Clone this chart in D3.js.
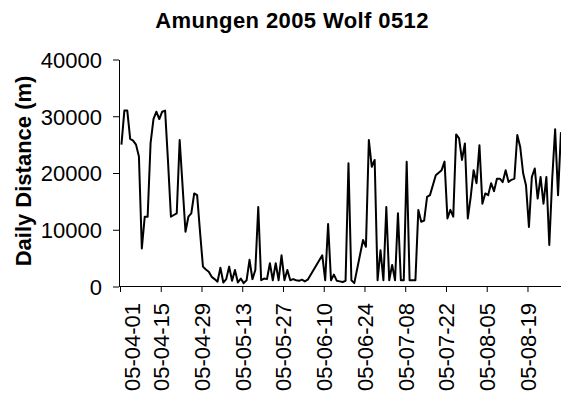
<!DOCTYPE html>
<html>
<head>
<meta charset="utf-8">
<script src="https://cdn.jsdelivr.net/npm/d3@7"></script>
<style>
  html, body { margin: 0; padding: 0; background: #fff; }
  svg { display: block; }
  text { font-family: "Liberation Sans", Arial, sans-serif; fill: #000; }
</style>
</head>
<body>
<svg id="chart" width="561" height="401"></svg>
<script>
// Daily distance travelled by wolf 0512, Amungen 2005
const dates = [
  "2005-04-01","2005-04-02","2005-04-03","2005-04-04","2005-04-05","2005-04-06","2005-04-07","2005-04-08",
  "2005-04-09","2005-04-10","2005-04-11","2005-04-12","2005-04-13","2005-04-14","2005-04-15","2005-04-16",
  "2005-04-17","2005-04-18","2005-04-19","2005-04-20","2005-04-21","2005-04-23","2005-04-24","2005-04-25",
  "2005-04-26","2005-04-27","2005-04-28","2005-04-29","2005-04-30","2005-05-01","2005-05-02","2005-05-03",
  "2005-05-04","2005-05-05","2005-05-06","2005-05-07","2005-05-08","2005-05-09","2005-05-10","2005-05-11",
  "2005-05-12","2005-05-13","2005-05-14","2005-05-15","2005-05-16","2005-05-17","2005-05-18","2005-05-19",
  "2005-05-20","2005-05-21","2005-05-22","2005-05-23","2005-05-24","2005-05-25","2005-05-26","2005-05-27",
  "2005-05-28","2005-05-29","2005-05-30","2005-05-31","2005-06-01","2005-06-02","2005-06-03","2005-06-04",
  "2005-06-09","2005-06-10","2005-06-11","2005-06-12","2005-06-13","2005-06-14","2005-06-15","2005-06-16",
  "2005-06-17","2005-06-18","2005-06-19","2005-06-20","2005-06-23","2005-06-24","2005-06-25","2005-06-26",
  "2005-06-27","2005-06-28","2005-06-29","2005-06-30","2005-07-01","2005-07-02","2005-07-03","2005-07-04",
  "2005-07-05","2005-07-06","2005-07-07","2005-07-08","2005-07-09","2005-07-10","2005-07-11","2005-07-12",
  "2005-07-13","2005-07-14","2005-07-15","2005-07-16","2005-07-18","2005-07-20","2005-07-21","2005-07-22",
  "2005-07-23","2005-07-24","2005-07-25","2005-07-26","2005-07-27","2005-07-28","2005-07-29","2005-07-30",
  "2005-07-31","2005-08-01","2005-08-02","2005-08-03","2005-08-04","2005-08-05","2005-08-06","2005-08-07",
  "2005-08-08","2005-08-09","2005-08-10","2005-08-11","2005-08-12","2005-08-13","2005-08-14","2005-08-15",
  "2005-08-16","2005-08-17","2005-08-18","2005-08-19","2005-08-20","2005-08-21","2005-08-22","2005-08-23",
  "2005-08-24","2005-08-25","2005-08-26","2005-08-27","2005-08-28","2005-08-29","2005-08-30"
];
const distance = [
  25000,31000,31000,26000,25700,25000,22900,6700,
  12300,12300,25200,29500,30800,29500,30800,31000,
  22000,12300,12600,12900,25800,9650,12300,12900,
  16400,16100,9600,3500,3000,2600,1700,1300,
  850,3300,700,1300,3500,1000,2900,700,
  1400,600,1100,4700,1300,2900,14000,1100,
  1400,1300,4100,1100,4100,1100,5500,1100,
  2900,1100,1300,1100,1000,1200,900,1200,
  5500,1100,11000,1100,2100,1000,900,800,
  1000,21700,1100,600,8200,7000,25800,21100,
  22300,1100,6400,1100,14000,1100,3800,1100,
  12900,1100,1100,22000,1100,1100,1100,13500,
  11400,11600,15800,16100,19600,20500,22000,12000,
  13500,12300,26800,26100,22300,25200,12000,15800,
  20500,18200,24900,14600,16400,16100,18200,16800,
  19000,19000,18400,20500,18400,18800,19000,26700,
  24600,20000,17800,10500,19300,20800,15500,19300,
  14600,19300,7300,19000,27700,16100,27200
];
const yTicks = [0, 10000, 20000, 30000, 40000];
const xTickDates = ["2005-04-01","2005-04-15","2005-04-29","2005-05-13","2005-05-27","2005-06-10",
                    "2005-06-24","2005-07-08","2005-07-22","2005-08-05","2005-08-19"];
const xTickLabels = ["05-04-01","05-04-15","05-04-29","05-05-13","05-05-27","05-06-10",
                     "05-06-24","05-07-08","05-07-22","05-08-05","05-08-19"];
const titleText = "Amungen 2005 Wolf 0512";
const yTitleText = "Daily Distance (m)";

const parse = d3.utcParse("%Y-%m-%d");
const series = dates.map((d, i) => ({ date: parse(d), value: distance[i] }));

const svg = d3.select("#chart");
const plotLeft = 120, plotRight = 562.4, plotTop = 59.5, plotBottom = 286.5;

const x = d3.scaleUtc()
  .domain([parse("2005-04-01"), parse("2005-08-31")])
  .range([plotLeft, plotRight]);
const y = d3.scaleLinear().domain([0, 40000]).range([plotBottom, plotTop]);

// each day is plotted at the middle of its slot on the date axis
const midDay = d => d3.utcHour.offset(d, 12);

// title
svg.append("text")
  .attr("x", 292).attr("y", 28)
  .attr("text-anchor", "middle")
  .style("font-size", "22px").style("font-weight", "bold")
  .style("letter-spacing", "0.4px")
  .text(titleText);

// y axis
const yAxis = svg.append("g")
  .attr("transform", `translate(${plotLeft - 1},0)`)
  .call(d3.axisLeft(y).tickValues(yTicks).tickFormat(d3.format("d"))
        .tickSize(6).tickSizeOuter(0).tickPadding(11));
yAxis.selectAll("text").style("font-size", "22px").attr("dy", "0.36em");
yAxis.selectAll("path, line").attr("stroke", "#000");

svg.append("text")
  .attr("transform", `translate(31,${(plotTop + plotBottom) / 2 - 2}) rotate(-90)`)
  .attr("text-anchor", "middle")
  .style("font-size", "22px").style("font-weight", "bold")
  .text(yTitleText);

// x axis
const xAxis = svg.append("g")
  .attr("transform", `translate(0,${plotBottom - 0.5})`)
  .call(d3.axisBottom(x).tickValues(xTickDates.map(parse))
        .tickFormat((d, i) => xTickLabels[i])
        .tickSize(6).tickSizeOuter(0));
xAxis.selectAll("path, line").attr("stroke", "#000");
xAxis.selectAll("text")
  .style("font-size", "22px")
  .attr("text-anchor", "end")
  .attr("transform", (d, i) => `translate(${i === 0 ? 12 : 0},17) rotate(-90)`)
  .attr("x", 0).attr("y", 0).attr("dy", "0.36em");

// data line
svg.append("path")
  .datum(series)
  .attr("fill", "none")
  .attr("stroke", "#000")
  .attr("stroke-width", 2)
  .attr("stroke-linejoin", "round")
  .attr("d", d3.line().x(d => x(midDay(d.date))).y(d => y(d.value)));
</script>
</body>
</html>
